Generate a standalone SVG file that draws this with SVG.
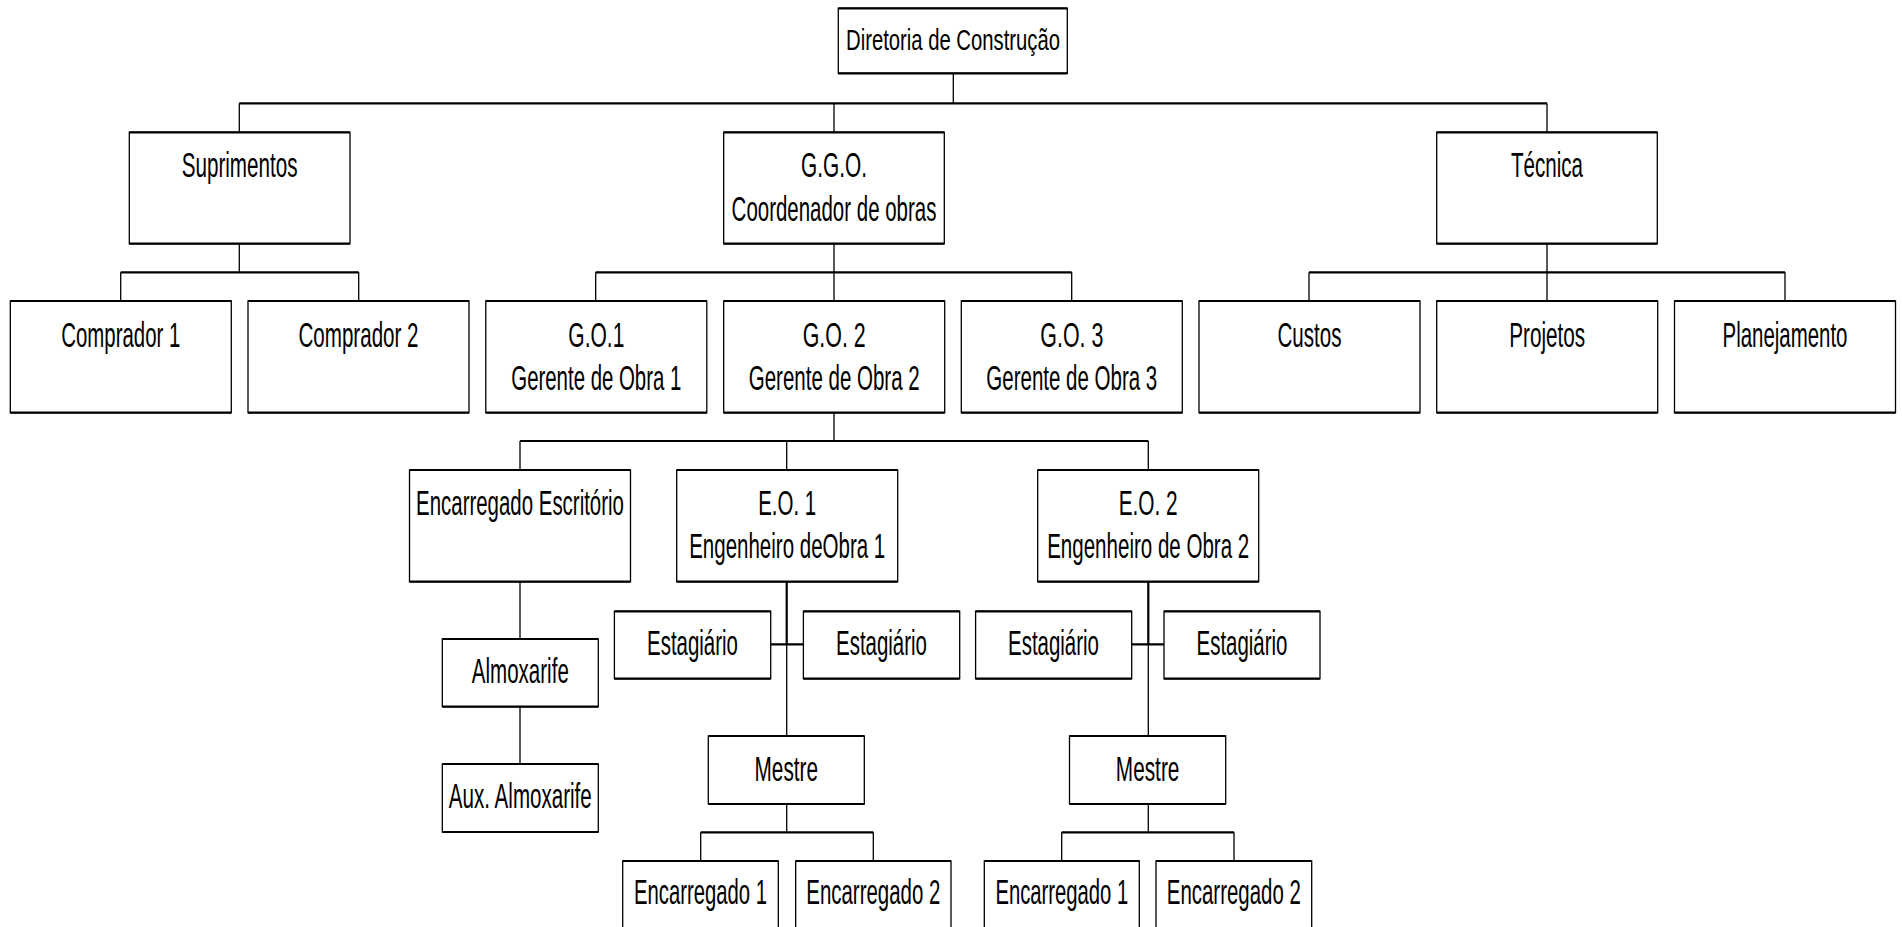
<svg xmlns="http://www.w3.org/2000/svg" width="1902" height="927" viewBox="0 0 1902 927">
<style>
.box{fill:#fff;stroke:#000;stroke-width:1.3}
.rim{fill:none;stroke:#000;stroke-width:2.2}
.lbl{font-family:"Liberation Sans",Arial,Helvetica,sans-serif;font-size:35px;fill:#000;text-anchor:middle}
.small{font-size:30px}
.bus{fill:none;stroke:#000;stroke-width:2.2}
.drop{fill:none;stroke:#000;stroke-width:1.3}
</style>
<rect width="1902" height="927" fill="#fff"/>

<!-- connectors: thick horizontal buses, thin vertical drops -->
<g id="connectors">
<path class="bus" d="M239.3 103.3H1547M120.7 272.3H358.7M595.7 272.3H1071.7M1309 272.3H1785M520 441H1148.3M770.7 644.3H803.3M1131.7 644.3H1164M700.7 832.3H873.3M1061.7 832.3H1234M786.7 581.7V644.3M1148.3 581.7V644.3"/>
<path class="drop" d="M953.3 73.3V103.3M239.3 103.3V132.3M834 103.3V132.3M1547 103.3V132.3M239.3 243.7V272.3M120.7 272.3V301M358.7 272.3V301M834 243.7V301M595.7 272.3V301M1071.7 272.3V301M1547 243.7V301M1309 272.3V301M1785 272.3V301M834 412.7V441M520 441V470M786.7 441V470M1148.3 441V470M520 581.7V639M520 706.7V764M786.7 644.3V736M786.7 804V832.3M700.7 832.3V861M873.3 832.3V861M1148.3 644.3V736M1148.3 804V832.3M1061.7 832.3V861M1234 832.3V861"/>
</g>

<!-- labels use a condensed horizontal scale: translate to the box centre, then squeeze -->
<g id="diretoria">
<rect class="box" x="838.3" y="8.3" width="229" height="65"/>
<path class="rim" d="M838.3 8.3h229M838.3 73.3h229"/>
<text class="lbl small" transform="translate(953 0) scale(0.6755 1)" x="0" y="50">Diretoria de Construção</text>
</g>

<g id="suprimentos">
<rect class="box" x="129.3" y="132.3" width="220.7" height="111.4"/>
<path class="rim" d="M129.3 132.3h220.7M129.3 243.7h220.7"/>
<text class="lbl" transform="translate(239.6 0) scale(0.59 1)" x="0" y="177.3">Suprimentos</text>
</g>

<g id="ggo">
<rect class="box" x="723.7" y="132.3" width="220.6" height="111.4"/>
<path class="rim" d="M723.7 132.3h220.6M723.7 243.7h220.6"/>
<text class="lbl" transform="translate(834 0) scale(0.595 1)" x="0" y="177.3">G.G.O.</text>
<text class="lbl" transform="translate(834 0) scale(0.585 1)" x="0" y="220.7">Coordenador de obras</text>
</g>

<g id="tecnica">
<rect class="box" x="1436.7" y="132.3" width="220.6" height="111.4"/>
<path class="rim" d="M1436.7 132.3h220.6M1436.7 243.7h220.6"/>
<text class="lbl" transform="translate(1547 0) scale(0.588 1)" x="0" y="177.3">Técnica</text>
</g>

<g id="comprador1">
<rect class="box" x="10.3" y="301" width="221" height="111.7"/>
<path class="rim" d="M10.3 301h221M10.3 412.7h221"/>
<text class="lbl" transform="translate(120.8 0) scale(0.583 1)" x="0" y="346.7">Comprador 1</text>
</g>

<g id="comprador2">
<rect class="box" x="248" y="301" width="221" height="111.7"/>
<path class="rim" d="M248 301h221M248 412.7h221"/>
<text class="lbl" transform="translate(358.5 0) scale(0.588 1)" x="0" y="346.7">Comprador 2</text>
</g>

<g id="go1">
<rect class="box" x="485.8" y="301" width="221" height="111.7"/>
<path class="rim" d="M485.8 301h221M485.8 412.7h221"/>
<text class="lbl" transform="translate(596.3 0) scale(0.6 1)" x="0" y="346.7">G.O.1</text>
<text class="lbl" transform="translate(596.3 0) scale(0.583 1)" x="0" y="390">Gerente de Obra 1</text>
</g>

<g id="go2">
<rect class="box" x="723.7" y="301" width="221" height="111.7"/>
<path class="rim" d="M723.7 301h221M723.7 412.7h221"/>
<text class="lbl" transform="translate(834.2 0) scale(0.611 1)" x="0" y="346.7">G.O. 2</text>
<text class="lbl" transform="translate(834.2 0) scale(0.586 1)" x="0" y="390">Gerente de Obra 2</text>
</g>

<g id="go3">
<rect class="box" x="961.3" y="301" width="221" height="111.7"/>
<path class="rim" d="M961.3 301h221M961.3 412.7h221"/>
<text class="lbl" transform="translate(1071.8 0) scale(0.611 1)" x="0" y="346.7">G.O. 3</text>
<text class="lbl" transform="translate(1071.8 0) scale(0.586 1)" x="0" y="390">Gerente de Obra 3</text>
</g>

<g id="custos">
<rect class="box" x="1199" y="301" width="221" height="111.7"/>
<path class="rim" d="M1199 301h221M1199 412.7h221"/>
<text class="lbl" transform="translate(1309.5 0) scale(0.588 1)" x="0" y="346.7">Custos</text>
</g>

<g id="projetos">
<rect class="box" x="1436.7" y="301" width="221" height="111.7"/>
<path class="rim" d="M1436.7 301h221M1436.7 412.7h221"/>
<text class="lbl" transform="translate(1547.2 0) scale(0.592 1)" x="0" y="346.7">Projetos</text>
</g>

<g id="planejamento">
<rect class="box" x="1674.5" y="301" width="221" height="111.7"/>
<path class="rim" d="M1674.5 301h221M1674.5 412.7h221"/>
<text class="lbl" transform="translate(1785 0) scale(0.584 1)" x="0" y="346.7">Planejamento</text>
</g>

<g id="encarregado-escritorio">
<rect class="box" x="409.5" y="470" width="221" height="111.7"/>
<path class="rim" d="M409.5 470h221M409.5 581.7h221"/>
<text class="lbl" transform="translate(520 0) scale(0.584 1)" x="0" y="515">Encarregado Escritório</text>
</g>

<g id="eo1">
<rect class="box" x="676.7" y="470" width="221" height="111.7"/>
<path class="rim" d="M676.7 470h221M676.7 581.7h221"/>
<text class="lbl" transform="translate(787.2 0) scale(0.585 1)" x="0" y="515">E.O. 1</text>
<text class="lbl" transform="translate(787.2 0) scale(0.586 1)" x="0" y="558.3">Engenheiro deObra 1</text>
</g>

<g id="eo2">
<rect class="box" x="1037.7" y="470" width="221" height="111.7"/>
<path class="rim" d="M1037.7 470h221M1037.7 581.7h221"/>
<text class="lbl" transform="translate(1148.2 0) scale(0.595 1)" x="0" y="515">E.O. 2</text>
<text class="lbl" transform="translate(1148.2 0) scale(0.587 1)" x="0" y="558.3">Engenheiro de Obra 2</text>
</g>

<g id="estagiario-1a">
<rect class="box" x="614.4" y="611.3" width="156.3" height="67.4"/>
<path class="rim" d="M614.4 611.3h156.3M614.4 678.7h156.3"/>
<text class="lbl" transform="translate(692.5 0) scale(0.585 1)" x="0" y="655">Estagiário</text>
</g>

<g id="estagiario-1b">
<rect class="box" x="803.4" y="611.3" width="156.3" height="67.4"/>
<path class="rim" d="M803.4 611.3h156.3M803.4 678.7h156.3"/>
<text class="lbl" transform="translate(881.5 0) scale(0.585 1)" x="0" y="655">Estagiário</text>
</g>

<g id="estagiario-2a">
<rect class="box" x="975.6" y="611.3" width="156.1" height="67.4"/>
<path class="rim" d="M975.6 611.3h156.1M975.6 678.7h156.1"/>
<text class="lbl" transform="translate(1053.5 0) scale(0.585 1)" x="0" y="655">Estagiário</text>
</g>

<g id="estagiario-2b">
<rect class="box" x="1164" y="611.3" width="156" height="67.4"/>
<path class="rim" d="M1164 611.3h156M1164 678.7h156"/>
<text class="lbl" transform="translate(1242 0) scale(0.585 1)" x="0" y="655">Estagiário</text>
</g>

<g id="almoxarife">
<rect class="box" x="442.3" y="639" width="156" height="67.7"/>
<path class="rim" d="M442.3 639h156M442.3 706.7h156"/>
<text class="lbl" transform="translate(520.3 0) scale(0.587 1)" x="0" y="683.3">Almoxarife</text>
</g>

<g id="aux-almoxarife">
<rect class="box" x="442.3" y="764" width="156" height="68"/>
<path class="rim" d="M442.3 764h156M442.3 832h156"/>
<text class="lbl" transform="translate(520.3 0) scale(0.588 1)" x="0" y="808.3">Aux. Almoxarife</text>
</g>

<g id="mestre-1">
<rect class="box" x="708.3" y="736" width="156" height="68"/>
<path class="rim" d="M708.3 736h156M708.3 804h156"/>
<text class="lbl" transform="translate(786.3 0) scale(0.594 1)" x="0" y="780.7">Mestre</text>
</g>

<g id="mestre-2">
<rect class="box" x="1069.5" y="736" width="156.2" height="68"/>
<path class="rim" d="M1069.5 736h156.2M1069.5 804h156.2"/>
<text class="lbl" transform="translate(1147.6 0) scale(0.594 1)" x="0" y="780.7">Mestre</text>
</g>

<g id="encarregado-1a">
<rect class="box" x="622.7" y="861" width="155.6" height="67"/>
<path class="rim" d="M622.7 861h155.6M622.7 928h155.6"/>
<text class="lbl" transform="translate(700.5 0) scale(0.579 1)" x="0" y="904">Encarregado 1</text>
</g>

<g id="encarregado-1b">
<rect class="box" x="795.7" y="861" width="155.3" height="67"/>
<path class="rim" d="M795.7 861h155.3M795.7 928h155.3"/>
<text class="lbl" transform="translate(873.3 0) scale(0.584 1)" x="0" y="904">Encarregado 2</text>
</g>

<g id="encarregado-2a">
<rect class="box" x="984.3" y="861" width="155" height="67"/>
<path class="rim" d="M984.3 861h155M984.3 928h155"/>
<text class="lbl" transform="translate(1061.8 0) scale(0.579 1)" x="0" y="904">Encarregado 1</text>
</g>

<g id="encarregado-2b">
<rect class="box" x="1156" y="861" width="155.7" height="67"/>
<path class="rim" d="M1156 861h155.7M1156 928h155.7"/>
<text class="lbl" transform="translate(1233.8 0) scale(0.584 1)" x="0" y="904">Encarregado 2</text>
</g>
</svg>
